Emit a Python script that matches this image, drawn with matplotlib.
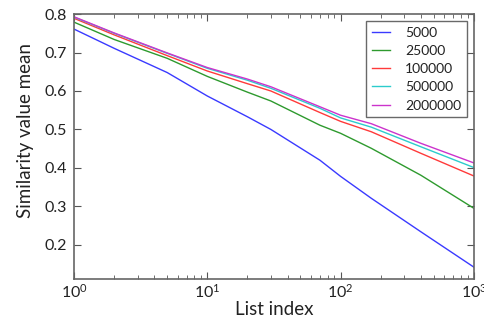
import matplotlib
matplotlib.use("Agg")
import matplotlib.pyplot as plt
from matplotlib.ticker import LogLocator, FixedLocator

plt.rcParams["font.family"] = ["Lato", "DejaVu Sans"]
plt.rcParams["mathtext.fontset"] = "custom"
plt.rcParams["mathtext.rm"] = "Lato"
plt.rcParams["mathtext.it"] = "Lato:italic"

# list index positions and mean similarity per vocabulary size
list_index = [1, 2, 5, 10, 20, 30, 70, 100, 170, 400, 1000]
sizes = ["5000", "25000", "100000", "500000", "2000000"]
sim_5000 = [0.761, 0.711, 0.648, 0.587, 0.533, 0.500, 0.420, 0.378, 0.321, 0.234, 0.142]
sim_25000 = [0.779, 0.734, 0.685, 0.638, 0.597, 0.574, 0.511, 0.490, 0.451, 0.381, 0.295]
sim_100000 = [0.789, 0.746, 0.692, 0.652, 0.619, 0.600, 0.544, 0.521, 0.494, 0.438, 0.379]
sim_500000 = [0.792, 0.750, 0.698, 0.659, 0.628, 0.607, 0.555, 0.530, 0.506, 0.455, 0.401]
sim_2000000 = [0.793, 0.751, 0.699, 0.661, 0.631, 0.611, 0.559, 0.537, 0.515, 0.464, 0.413]
series = [sim_5000, sim_25000, sim_100000, sim_500000, sim_2000000]
colors = ["#3a3aff", "#2e9a2e", "#ff3a3a", "#2ccccc", "#cc33cc"]
yticks = [0.2, 0.3, 0.4, 0.5, 0.6, 0.7, 0.8]

fig = plt.figure(figsize=(4.85, 3.2), dpi=100)
ax = fig.add_axes([0.1526, 0.128, 0.8244, 0.828])

for vals, lab, col in zip(series, sizes, colors):
    ax.plot(list_index, vals, color=col, lw=1.0, label=lab)

ax.set_xscale("log")
ax.set_xlim(1, 1000)
ax.set_ylim(0.111, 0.8)
ax.yaxis.set_major_locator(FixedLocator(yticks))
ax.set_yticklabels([f"{v:.1f}" for v in yticks])
ax.xaxis.set_major_locator(LogLocator(base=10))
ax.xaxis.set_minor_locator(LogLocator(base=10, subs=range(2, 10)))

ax.tick_params(which="both", direction="in", top=True, right=True, colors="#555555",
               labelcolor="#222222", labelsize=11.5)
ax.tick_params(axis="y", pad=5)
ax.tick_params(axis="x", pad=3)
ax.tick_params(which="major", length=5, width=0.8)
ax.tick_params(which="minor", length=3, width=0.6)
for s in ax.spines.values():
    s.set_color("#666666")
    s.set_linewidth(1.2)

ax.set_xlabel("List index", fontsize=13.5, color="#222222", labelpad=0)
ax.set_ylabel("Similarity value mean", fontsize=13.5, color="#222222")
ax.yaxis.set_label_coords(-0.1, 0.56)

leg = ax.legend(loc="upper right", fontsize=10, fancybox=False, handlelength=1.3,
                handletextpad=1.1, borderaxespad=0.5, labelspacing=0.45, borderpad=0.4)
leg.get_frame().set_edgecolor("#444444")
leg.get_frame().set_linewidth(1.0)
for t in leg.get_texts():
    t.set_color("#222222")

fig.savefig("out.png", dpi=100)
